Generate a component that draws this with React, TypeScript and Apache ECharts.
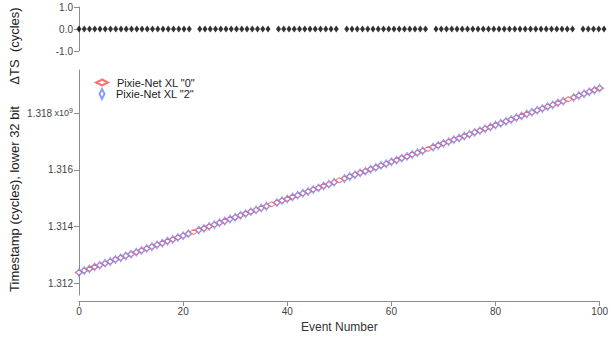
import React, { useEffect, useRef } from "react";
import * as echarts from "echarts";

// Event numbers 0..100
const events: number[] = [
  0, 1, 2, 3, 4, 5, 6, 7, 8, 9, 10, 11, 12, 13, 14, 15, 16, 17, 18, 19, 20,
  21, 22, 23, 24, 25, 26, 27, 28, 29, 30, 31, 32, 33, 34, 35, 36, 37, 38, 39, 40,
  41, 42, 43, 44, 45, 46, 47, 48, 49, 50, 51, 52, 53, 54, 55, 56, 57, 58, 59, 60,
  61, 62, 63, 64, 65, 66, 67, 68, 69, 70, 71, 72, 73, 74, 75, 76, 77, 78, 79, 80,
  81, 82, 83, 84, 85, 86, 87, 88, 89, 90, 91, 92, 93, 94, 95, 96, 97, 98, 99, 100,
];

// Timestamp (x10^9 cycles), Pixie-Net XL "0"
const ts0: number[] = [
  1.31238, 1.31245, 1.31251, 1.31258, 1.31264, 1.31271, 1.31277, 1.31284, 1.3129, 1.31297,
  1.31303, 1.3131, 1.31316, 1.31323, 1.31329, 1.31336, 1.31342, 1.31349, 1.31355, 1.31362,
  1.31368, 1.31375, 1.31381, 1.31388, 1.31394, 1.31401, 1.31407, 1.31414, 1.3142, 1.31427,
  1.31433, 1.3144, 1.31446, 1.31453, 1.31459, 1.31466, 1.31472, 1.31479, 1.31485, 1.31492,
  1.31498, 1.31505, 1.31511, 1.31518, 1.31524, 1.31531, 1.31537, 1.31544, 1.3155, 1.31557,
  1.31564, 1.3157, 1.31577, 1.31583, 1.3159, 1.31596, 1.31603, 1.31609, 1.31616, 1.31622,
  1.31629, 1.31635, 1.31642, 1.31648, 1.31655, 1.31661, 1.31668, 1.31674, 1.31681, 1.31687,
  1.31694, 1.317, 1.31707, 1.31713, 1.3172, 1.31726, 1.31733, 1.31739, 1.31746, 1.31752,
  1.31759, 1.31765, 1.31772, 1.31778, 1.31785, 1.31791, 1.31798, 1.31804, 1.31811, 1.31817,
  1.31824, 1.3183, 1.31837, 1.31843, 1.3185, 1.31856, 1.31863, 1.31869, 1.31876, 1.31882,
  1.31889,
];

// Timestamp (x10^9 cycles), Pixie-Net XL "2" (missing events are null)
const ts2: (number | null)[] = [
  1.31238, 1.31245, 1.31251, 1.31258, 1.31264, 1.31271, 1.31277, 1.31284, 1.3129, 1.31297,
  1.31303, 1.3131, 1.31316, 1.31323, 1.31329, 1.31336, 1.31342, 1.31349, 1.31355, 1.31362,
  1.31368, 1.31375, null, 1.31388, 1.31394, 1.31401, 1.31407, 1.31414, 1.3142, 1.31427,
  1.31433, 1.3144, 1.31446, 1.31453, 1.31459, 1.31466, 1.31472, null, 1.31485, 1.31492,
  1.31498, 1.31505, 1.31511, 1.31518, 1.31524, 1.31531, 1.31537, 1.31544, 1.3155, 1.31557,
  null, 1.3157, 1.31577, 1.31583, 1.3159, 1.31596, 1.31603, 1.31609, 1.31616, 1.31622,
  1.31629, 1.31635, 1.31642, 1.31648, 1.31655, 1.31661, 1.31668, null, 1.31681, 1.31687,
  1.31694, 1.317, 1.31707, 1.31713, 1.3172, 1.31726, 1.31733, 1.31739, 1.31746, 1.31752,
  1.31759, 1.31765, 1.31772, 1.31778, 1.31785, 1.31791, 1.31798, 1.31804, 1.31811, 1.31817,
  1.31824, 1.3183, 1.31837, 1.31843, null, 1.31856, 1.31863, 1.31869, 1.31876, 1.31882,
  1.31889,
];

// ΔTS (cycles)
const dTS: (number | null)[] = [
  0, 0, 0, 0, 0, 0, 0, 0, 0, 0, 0, 0, 0, 0, 0, 0, 0, 0, 0, 0, 0,
  0, null, 0, 0, 0, 0, 0, 0, 0, 0, 0, 0, 0, 0, 0, 0, null, 0, 0, 0,
  0, 0, 0, 0, 0, 0, 0, 0, 0, null, 0, 0, 0, 0, 0, 0, 0, 0, 0, 0,
  0, 0, 0, 0, 0, 0, null, 0, 0, 0, 0, 0, 0, 0, 0, 0, 0, 0, 0, 0,
  0, 0, 0, 0, 0, 0, 0, 0, 0, 0, 0, 0, 0, 0, null, 0, 0, 0, 0, 0, 0,
];

const mainYTicks: number[] = [1.312, 1.314, 1.316, 1.318];
const topYTicks: number[] = [-1, 0, 1];
const seriesNames: string[] = ['Pixie-Net XL "0"', 'Pixie-Net XL "2"'];

const FONT = "'Liberation Sans', Arial, sans-serif";
const AXIS_COLOR = "#8c8c8c";
const LABEL_COLOR = "#444";

export default function App() {
  const ref = useRef<HTMLDivElement>(null);

  useEffect(() => {
    if (!ref.current) return;
    const chart = echarts.init(ref.current, undefined, { renderer: "svg" });

    const pairs = (ys: (number | null)[]) =>
      events.map((x, i) => (ys[i] == null ? [x, null] : [x, ys[i]]));

    const option: any = {
      animation: false,
      backgroundColor: "#fff",
      textStyle: { fontFamily: FONT },
      grid: [
        { left: 79, right: 7, top: 7, height: 44 },
        { left: 79, right: 7, top: 70, bottom: 44 },
      ],
      xAxis: [
        {
          gridIndex: 0,
          type: "value",
          min: 0,
          max: 100,
          show: false,
        },
        {
          gridIndex: 1,
          type: "value",
          min: 0,
          max: 100,
          interval: 20,
          offset: 6,
          name: "Event Number",
          nameLocation: "middle",
          nameGap: 20,
          nameTextStyle: { fontSize: 12, color: "#333", fontFamily: FONT },
          axisLine: { show: true, lineStyle: { color: AXIS_COLOR, width: 1 } },
          axisTick: { show: true, length: 5, lineStyle: { color: AXIS_COLOR } },
          axisLabel: { fontSize: 10, color: LABEL_COLOR, margin: 5, fontFamily: FONT },
          splitLine: { show: false },
        },
      ],
      yAxis: [
        {
          gridIndex: 0,
          type: "value",
          min: -1,
          max: 1,
          axisLine: { show: true, lineStyle: { color: AXIS_COLOR, width: 1 } },
          axisTick: {
            show: true,
            length: 5,
            lineStyle: { color: AXIS_COLOR },
            customValues: topYTicks,
          },
          axisLabel: {
            fontSize: 10,
            color: LABEL_COLOR,
            margin: 6,
            fontFamily: FONT,
            customValues: topYTicks,
            formatter: (v: number) => v.toFixed(1),
          },
          splitLine: { show: false },
        },
        {
          gridIndex: 1,
          type: "value",
          min: 1.311587,
          max: 1.31953,
          axisLine: { show: true, lineStyle: { color: AXIS_COLOR, width: 1 } },
          axisTick: {
            show: true,
            length: 5,
            lineStyle: { color: AXIS_COLOR },
            customValues: mainYTicks,
          },
          axisLabel: {
            fontSize: 10,
            color: LABEL_COLOR,
            margin: 6,
            fontFamily: FONT,
            customValues: mainYTicks,
            formatter: (v: number) =>
              Math.abs(v - 1.318) < 1e-9
                ? v.toFixed(3) + "{s| x10}{sup|9}"
                : v.toFixed(3),
            rich: {
              s: { fontSize: 9, color: LABEL_COLOR, fontFamily: FONT },
              sup: { fontSize: 7, color: LABEL_COLOR, fontFamily: FONT, verticalAlign: "top", padding: [0, 0, 6, 0] },
            },
          },
          splitLine: { show: false },
        },
      ],
      legend: [
        {
          data: [{ name: seriesNames[0], icon: "diamond" }],
          left: 90,
          top: 72,
          itemWidth: 12,
          itemHeight: 6,
          itemGap: 4,
          textStyle: { fontSize: 11, color: "#222", fontFamily: FONT, padding: [0, 0, 0, 4] },
        },
        {
          data: [{ name: seriesNames[1], icon: "diamond" }],
          left: 93.5,
          top: 83,
          itemWidth: 5,
          itemHeight: 10,
          itemGap: 4,
          textStyle: { fontSize: 11, color: "#222", fontFamily: FONT, padding: [0, 0, 0, 6.5] },
        },
      ],
      series: [
        {
          type: "scatter",
          xAxisIndex: 0,
          yAxisIndex: 0,
          data: pairs(dTS),
          symbol: "diamond",
          symbolSize: [5, 7],
          itemStyle: { color: "#000" },
          silent: true,
        },
        {
          name: seriesNames[0],
          type: "scatter",
          xAxisIndex: 1,
          yAxisIndex: 1,
          data: pairs(ts0),
          symbol: "diamond",
          symbolSize: [8, 5],
          itemStyle: { color: "#fff", borderColor: "#ff4a4a", borderWidth: 1 },
        },
        {
          name: seriesNames[1],
          type: "scatter",
          xAxisIndex: 1,
          yAxisIndex: 1,
          data: pairs(ts2),
          symbol: "diamond",
          symbolSize: [5, 8],
          itemStyle: { color: "rgba(255,255,255,0)", borderColor: "#6a86ff", borderWidth: 1 },
        },
      ],
      graphic: [
        {
          type: "text",
          x: 14,
          y: 46,
          rotation: Math.PI / 2,
          style: {
            text: "ΔTS  (cycles)",
            textAlign: "center",
            textVerticalAlign: "middle",
            fontSize: 13,
            fontFamily: FONT,
            fill: "#222",
          },
        },
        {
          type: "text",
          x: 14,
          y: 199,
          rotation: Math.PI / 2,
          style: {
            text: "Timestamp (cycles), lower 32 bit",
            textAlign: "center",
            textVerticalAlign: "middle",
            fontSize: 13,
            fontFamily: FONT,
            fill: "#222",
          },
        },
      ],
    };

    chart.setOption(option);
    return () => chart.dispose();
  }, []);

  return (
    <div
      ref={ref}
      style={{ position: "fixed", left: 0, top: 0, width: 611, height: 339 }}
    />
  );
}
